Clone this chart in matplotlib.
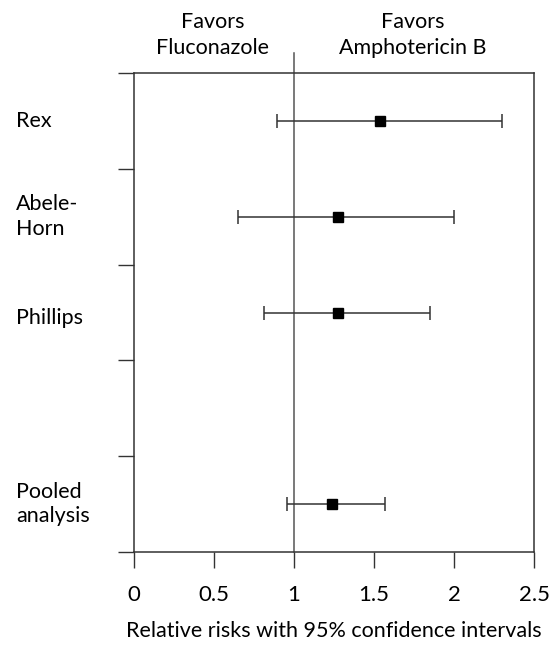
import matplotlib
matplotlib.use("Agg")
import matplotlib.pyplot as plt

studies = ["Rex", "Abele-\nHorn", "Phillips", "Pooled\nanalysis"]
rr = [1.54, 1.275, 1.275, 1.235]
lower = [0.895, 0.65, 0.81, 0.955]
upper = [2.30, 2.00, 1.85, 1.57]
ypos = [4.5, 3.5, 2.5, 0.5]
xticks = [0, 0.5, 1, 1.5, 2, 2.5]
xticklabels = ["0", "0.5", "1", "1.5", "2", "2.5"]

plt.rcParams['font.family'] = ['Lato', 'DejaVu Sans']

fig = plt.figure(figsize=(5.6, 6.47), dpi=100)
ax = fig.add_axes([134/560, 1-552/647, 400/560, 479/647])

err = [[r - l for r, l in zip(rr, lower)], [u - r for r, u in zip(rr, upper)]]
ax.errorbar(rr, ypos, xerr=err, fmt='s', color='black', ecolor='#333333',
            elinewidth=1.1, capsize=5, capthick=1.1, markersize=7.5, zorder=3)

ax.axvline(1, ymin=0, ymax=1.042, color='#555555', lw=1.1, clip_on=False, zorder=2)

ax.set_xlim(0, 2.5)
ax.set_ylim(0, 5)
ax.set_xticks(xticks)
ax.set_xticklabels(xticklabels, fontsize=16)
ax.set_yticks([0, 1, 2, 3, 4, 5])
ax.set_yticklabels([])
ax.tick_params(axis='both', direction='out', length=11.5, width=1, color='#333333')
ax.tick_params(axis='x', pad=12)
for s in ax.spines.values():
    s.set_color('#333333')
    s.set_linewidth(1.1)

ax.set_xlabel("Relative risks with 95% confidence intervals", fontsize=15.5, labelpad=12)

label_offsets = [0, 0, -5, 0]
for lab, y, off in zip(studies, ypos, label_offsets):
    ax.text(16/560, (ax.transData.transform((0, y))[1] + off) / 647, lab, transform=fig.transFigure,
            ha='left', va='center', fontsize=15.5, linespacing=1.3)

fig.text(213/560, 1-35/647, "Favors\nFluconazole", ha='center', va='center', fontsize=15.5, linespacing=1.4)
fig.text(413/560, 1-35/647, "Favors\nAmphotericin B", ha='center', va='center', fontsize=15.5, linespacing=1.4)

fig.savefig("out.png", dpi=100)
